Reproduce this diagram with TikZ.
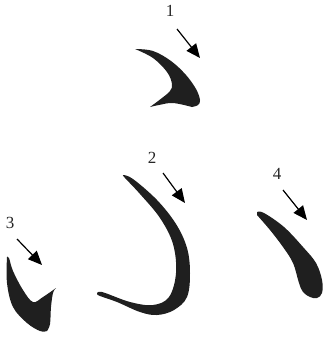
\documentclass[tikz,border=0pt]{standalone}
\usepackage{fontspec}
\setmainfont{Liberation Serif}
\usetikzlibrary{arrows.meta}
\begin{document}
\begin{tikzpicture}[x=1pt,y=-1pt,
  stroke/.style={fill=black!88},
  pointer/.style={line width=1.2pt,-{Triangle[length=14pt,width=12pt]}},
  lbl/.style={font=\fontsize{17}{17}\selectfont,text=black!85,inner sep=0pt}]
\useasboundingbox (0,0) rectangle (325,340);
% stroke 1
\fill[stroke] plot[smooth,tension=0.6] coordinates {(135,49) (153,51) (171,61) (186,75) (196,89) (200,100) (198,105) (192,107)}
  -- plot[smooth,tension=0.6] coordinates {(192,107) (173,103) (159,105) (150,107)}
  -- plot[smooth,tension=0.6] coordinates {(150,107) (162,98) (170,91) (172,84) (167,72) (153,58) (135,49)} -- cycle;
% stroke 2
\fill[stroke] plot[smooth,tension=0.6] coordinates {(123,175) (133,179) (157,200) (176,224) (187,248) (190,273) (187,297) (174,310) (157,315) (140,312) (117,302) (100,296) (97,294)}
  -- plot[smooth,tension=0.6] coordinates {(97,294) (102,292) (130,302) (153,305) (169,297) (176,273) (173,244) (160,218) (140,194) (125,178) (123,175)} -- cycle;
% stroke 3
\fill[stroke] plot[smooth,tension=0.6] coordinates {(7,257) (7,283) (13,307) (27,323) (40,331) (47,331)}
  -- plot[smooth,tension=0.6] coordinates {(47,331) (50,324) (51,307) (53,293) (56,288)}
  -- plot[smooth,tension=0.6] coordinates {(56,288) (43,297) (33,302) (23,290) (13,271) (9,258) (7,257)} -- cycle;
% stroke 4
\fill[stroke] plot[smooth,tension=0.6] coordinates {(257,212) (264,213) (284,227) (303,247) (316,263) (322,280) (322,293) (317,298) (310,297) (303,292) (299,283) (293,263) (283,247) (270,230) (257,215)} -- cycle;
% labels
\node[lbl] (l1) at (170,11) {1};
\node[lbl] (l2) at (152,158) {2};
\node[lbl] (l3) at (10,223) {3};
\node[lbl] (l4) at (277,174) {4};
\coordinate (a1) at (177,29); \coordinate (b1) at (200,58);
\coordinate (a2) at (163,173); \coordinate (b2) at (185,203);
\coordinate (a3) at (17,239); \coordinate (b3) at (42,265);
\coordinate (a4) at (283,190); \coordinate (b4) at (307,220);
\draw[pointer] (a1) -- (b1);
\draw[pointer] (a2) -- (b2);
\draw[pointer] (a3) -- (b3);
\draw[pointer] (a4) -- (b4);
\end{tikzpicture}
\end{document}
